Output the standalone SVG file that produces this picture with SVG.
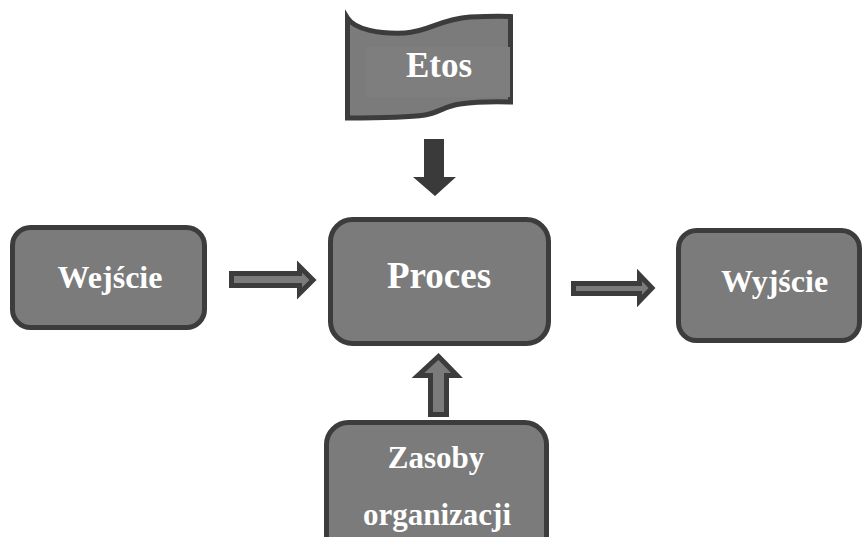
<svg xmlns="http://www.w3.org/2000/svg" width="863" height="537" viewBox="0 0 863 537">
<style>
.box{fill:#7b7b7b;stroke:#3c3c3c;stroke-width:5}
.lbl{fill:#ffffff;font-family:"Liberation Serif","Times New Roman","DejaVu Serif",serif;font-weight:bold;text-anchor:middle}
.oarrow{fill:#7b7b7b;stroke:#3c3c3c;stroke-width:5;stroke-linejoin:miter}
</style>
<rect width="863" height="537" fill="#ffffff"/>
<g id="etos">
<path class="box" d="M347.5,18 C355,30 380,34 405,33 C428,32 440,19 470,17 C490,16 503,16 510.5,16.5 L510.5,102 C495,101.5 475,102 460,104 C445,106 438,113 425,115 C405,118 370,118 347.5,118 Z"/>
<rect x="366" y="47" width="144" height="50" fill="#7e7e7e"/>
<text class="lbl" x="439" y="77" font-size="35">Etos</text>
</g>
<g id="wejscie">
<rect class="box" x="12.5" y="227.5" width="192" height="100" rx="18"/>
<text class="lbl" x="110" y="288" font-size="32">Wejście</text>
</g>
<g id="proces">
<rect class="box" x="330.5" y="219.5" width="218" height="124" rx="22"/>
<text class="lbl" x="439" y="288" font-size="37">Proces</text>
</g>
<g id="wyjscie">
<rect class="box" x="678.5" y="230.5" width="181" height="110" rx="18"/>
<text class="lbl" x="774.5" y="292" font-size="32">Wyjście</text>
</g>
<g id="zasoby">
<rect class="box" x="326.5" y="422.5" width="220" height="140" rx="22"/>
<text class="lbl" x="436" y="468" font-size="31">Zasoby</text>
<text class="lbl" x="437" y="525" font-size="31">organizacji</text>
</g>
<g id="connectors">
<polygon fill="#3a3a3a" points="424,139 444,139 444,177 456,177 435,196 413,177 424,177"/>
<polygon class="oarrow" points="231.5,273.5 299.5,273.5 299.5,266.5 313,280 299.5,293.5 299.5,285.5 231.5,285.5"/>
<polygon class="oarrow" points="573.5,283.5 639.5,283.5 639.5,275 652,288 639.5,301 639.5,293.5 573.5,293.5"/>
<polygon class="oarrow" points="430.5,414.5 430.5,375.5 418,375.5 438.5,356.5 457,375.5 446.5,375.5 446.5,414.5"/>
</g>
</svg>
